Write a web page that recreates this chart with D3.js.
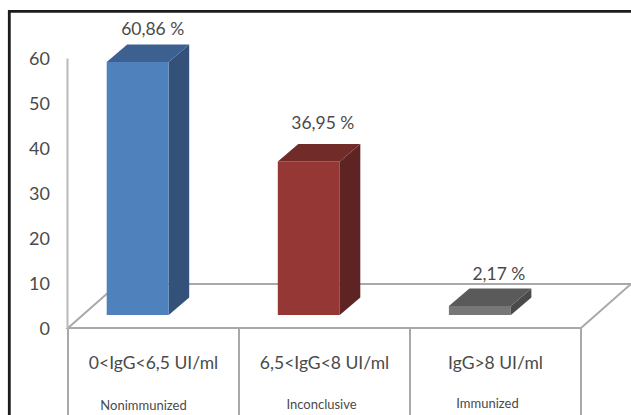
<!DOCTYPE html>
<html>
<head>
<meta charset="utf-8">
<script src="https://cdn.jsdelivr.net/npm/d3@7"></script>
<style>
html,body{margin:0;padding:0;background:#fff}
svg{display:block}
text{font-family:Lato,"Open Sans",sans-serif;fill:#4a4a4a}
</style>
</head>
<body>
<svg id="chart" width="631" height="415"></svg>
<script>
// IgG titre groups and the share of subjects in each
const categories = ["0<IgG<6,5 UI/ml", "6,5<IgG<8 UI/ml", "IgG>8 UI/ml"];
const statuses = ["Nonimmunized", "Inconclusive", "Immunized"];
const percentages = [60.86, 36.95, 2.17];
const valueLabels = ["60,86 %", "36,95 %", "2,17 %"];
const axisTicks = [0, 10, 20, 30, 40, 50, 60];
const frontColors = ["#4f81bd", "#953735", "#777777"];
const topColors = ["#3c6191", "#712b29", "#5a5a5a"];
const sideColors = ["#335179", "#5e2423", "#4a4a4a"];

const svg = d3.select("#chart");
const depthX = 20.5, depthY = 17.5;
const floorDx = 50, floorDy = 44;
const gridColor = "#a9a9a9";

// Axis runs along the front edge of the floor; bars stand further back and
// so use a slightly compressed scale of their own.
const axisY = d3.scaleLinear().domain([0, 60]).range([328, 58]);
const barY = d3.scaleLinear().domain([0, 60]).range([315, 65.6]);
const bandX = d3.scaleBand().domain(categories).range([68, 581]);
const barLeft = i => bandX(categories[i]) + 38.7 + i * 0.1;
const barWidth = 62;

// Frame: left and top edges
svg.append("path")
  .attr("d", "M9.3,415V11.3H631")
  .attr("fill", "none").attr("stroke", "#1c1c1c").attr("stroke-width", 2.8);

// Floor of the 3D plot and the category dividers
const x0 = bandX.range()[0], x1 = bandX.range()[1], yF = axisY(0);
svg.append("path")
  .attr("d", `M${x0},${yF}L${x0 + floorDx},${yF - floorDy}L${x1 + floorDx},${yF - floorDy}L${x1},${yF}Z`)
  .attr("fill", "#fff").attr("stroke", gridColor).attr("stroke-width", 2);

svg.append("g").selectAll("line")
  .data(categories.map(c => bandX(c)).concat([x1]))
  .join("line")
  .attr("x1", d => d).attr("x2", d => d)
  .attr("y1", yF).attr("y2", 415)
  .attr("stroke", gridColor).attr("stroke-width", 2);

// Value axis: line and labels only, no tick marks
const axis = d3.axisLeft(axisY).tickValues(axisTicks).tickSize(0).tickPadding(17);
const axisG = svg.append("g").attr("transform", `translate(${x0 - 1},0)`).call(axis);
axisG.select(".domain").attr("stroke", "#b9b9b9").attr("stroke-width", 2);
axisG.selectAll("text").style("font-size", "18px").attr("dy", "0.34em");

// Extruded bars
const bars = svg.append("g").selectAll("g").data(percentages).join("g");
bars.append("path")
  .attr("fill", (d, i) => sideColors[i])
  .attr("d", (d, i) => {
    const r = barLeft(i) + barWidth, t = barY(d), b = barY(0);
    return `M${r},${t}L${r + depthX},${t - depthY}L${r + depthX},${b - depthY}L${r},${b}Z`;
  });
bars.append("path")
  .attr("fill", (d, i) => topColors[i])
  .attr("d", (d, i) => {
    const l = barLeft(i), r = l + barWidth, t = barY(d);
    return `M${l},${t}L${l + depthX},${t - depthY}L${r + depthX},${t - depthY}L${r},${t}Z`;
  });
bars.append("rect")
  .attr("fill", (d, i) => frontColors[i])
  .attr("x", (d, i) => barLeft(i))
  .attr("width", barWidth)
  .attr("y", d => barY(d))
  .attr("height", d => barY(0) - barY(d));

// Percentage labels above each bar
const labelLift = [27, 32, 26];
const labelShift = [15, 14, 19];
bars.append("text")
  .attr("x", (d, i) => barLeft(i) + barWidth / 2 + labelShift[i])
  .attr("y", (d, i) => barY(d) - labelLift[i])
  .attr("text-anchor", "middle")
  .style("font-size", "17.5px")
  .text((d, i) => valueLabels[i]);

// Category and status labels under the floor
const labels = svg.append("g").selectAll("g").data(categories).join("g")
  .attr("transform", c => `translate(${bandX(c) + bandX.bandwidth() / 2},0)`);
labels.append("text")
  .attr("y", 369).attr("text-anchor", "middle")
  .style("font-size", "17.5px").text(c => c);
labels.append("text")
  .attr("y", (c, i) => [410, 409, 408][i])
  .attr("x", (c, i) => [-10, -3, -8][i])
  .attr("text-anchor", "middle")
  .style("font-size", "13px").text((c, i) => statuses[i]);
</script>
</body>
</html>
